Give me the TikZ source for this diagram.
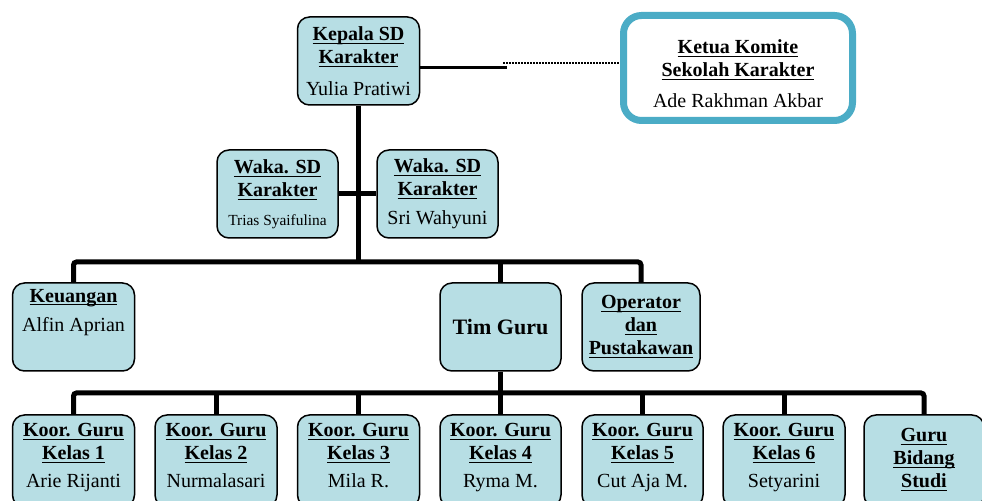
\documentclass[tikz,border=0pt]{standalone}
\usepackage{fontspec}
\setmainfont{Liberation Serif}

\definecolor{birumuda}{RGB}{183,222,228}
\definecolor{birukomite}{RGB}{75,172,198}

% judul jabatan: tebal dan bergaris bawah
\newcommand{\judul}[1]{\textbf{\underline{\smash{#1}}\vphantom{#1}}}
% isi kotak yang rata atas
\newcommand{\isiatas}[2][38pt]{%
  \begin{minipage}[c][#1][t]{60pt}\centering #2\end{minipage}}

\begin{document}
\begin{tikzpicture}[x=0.5pt,y=-0.5pt]
  % Define box, committee box and line style
  \tikzstyle{kotak} = [draw=black, fill=birumuda, line width=0.75pt,
  rounded corners=6pt, minimum width=61pt, minimum height=44pt,
  inner sep=0pt, align=center, font=\fontsize{10}{11.5}\selectfont]
  \tikzstyle{komite} = [draw=birukomite, fill=white, line width=3.5pt,
  rounded corners=9pt, minimum width=114.5pt, minimum height=52.5pt,
  inner sep=0pt, align=center, font=\fontsize{10}{11.5}\selectfont]
  \tikzstyle{garis} = [line width=2.5pt, rounded corners=1.5pt]

  \useasboundingbox (0,0) rectangle (982,501);
  \clip (0,0) rectangle (982,501);

  % pimpinan
  \node [kotak] (kepala) at (358.5,61)
    {\judul{Kepala SD}\\\judul{Karakter}\\[4.5pt]Yulia Pratiwi};
  \node [komite] (komite) at (738,68)
    {\rule{0pt}{13pt}\judul{Ketua Komite}\\\judul{Sekolah Karakter}\\[4pt]Ade Rakhman Akbar};

  \node [kotak, minimum width=60.5pt] (waka1) at (277.5,194)
    {\judul{Waka. SD}\\\judul{Karakter}\\[3pt]{\fontsize{7.7}{9}\selectfont Trias Syaifulina}};
  \node [kotak, minimum width=60.5pt] (waka2) at (437.5,194)
    {\judul{Waka. SD}\\\judul{Karakter}\\[3pt]Sri Wahyuni};

  % staf
  \node [kotak] (keuangan) at (73.5,327)
    {\isiatas{\judul{Keuangan}\\[3pt]Alfin Aprian}};
  \node [kotak, minimum width=60.5pt] (timguru) at (500.5,327)
    {\fontsize{11}{13}\selectfont\bfseries Tim Guru};
  \node [kotak, minimum width=59pt] (operator) at (641,327)
    {\judul{Operator}\\\judul{dan}\\\judul{Pustakawan}};

  % koordinator guru kelas
  \node [kotak, minimum height=46pt] (koor1) at (73.5,461)
    {\isiatas{\judul{Koor. Guru}\\\judul{Kelas 1}\\[2.5pt]Arie Rijanti}};
  \node [kotak, minimum height=46pt] (koor2) at (216,461)
    {\isiatas{\judul{Koor. Guru}\\\judul{Kelas 2}\\[2.5pt]Nurmalasari}};
  \node [kotak, minimum height=46pt] (koor3) at (358.5,461)
    {\isiatas{\judul{Koor. Guru}\\\judul{Kelas 3}\\[2.5pt]Mila R.}};
  \node [kotak, minimum height=46pt, minimum width=60.5pt] (koor4) at (500.5,461)
    {\isiatas{\judul{Koor. Guru}\\\judul{Kelas 4}\\[2.5pt]Ryma M.}};
  \node [kotak, minimum height=46pt, minimum width=60.5pt] (koor5) at (642.5,461)
    {\isiatas{\judul{Koor. Guru}\\\judul{Kelas 5}\\[2.5pt]Cut Aja M.}};
  \node [kotak, minimum height=46pt] (koor6) at (784,461)
    {\isiatas{\judul{Koor. Guru}\\\judul{Kelas 6}\\[2.5pt]Setyarini}};
  \node [kotak, minimum height=46pt, minimum width=59pt] (gbs) at (924,461)
    {\isiatas{\rule{0pt}{9.5pt}\judul{Guru}\\\judul{Bidang}\\\judul{Studi}}};

  % garis komando
  \coordinate (busatas) at (500.5,262);
  \coordinate (busbawah) at (500.5,393);
  \draw[garis] (kepala.south) -- (kepala.south |- busatas);
  \draw[garis] (waka1.east) -- (waka2.west);
  \draw[garis] (keuangan.north) |- (busatas) -| (operator.north);
  \draw[garis] (busatas) -- (timguru.north);
  \draw[garis] (timguru.south) -- (koor4.north);
  \draw[garis] (koor1.north) |- (busbawah) -| (gbs.north);
  \draw[garis] (koor2.north) -- (koor2.north |- busbawah);
  \draw[garis] (koor3.north) -- (koor3.north |- busbawah);
  \draw[garis] (koor5.north) -- (koor5.north |- busbawah);
  \draw[garis] (koor6.north) -- (koor6.north |- busbawah);

  % garis koordinasi ke komite
  \coordinate (ujung) at (507,68);
  \coordinate (titik) at (503,63);
  \draw[line width=1.5pt] (kepala.east |- ujung) -- (ujung);
  \draw[line width=0.75pt, dash pattern=on 0.75pt off 0.75pt]
    (titik) -- (komite.west |- titik);
\end{tikzpicture}
\end{document}
